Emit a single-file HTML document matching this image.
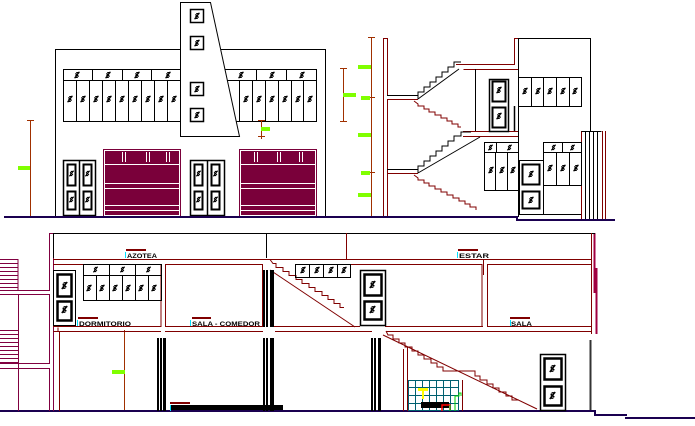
<!DOCTYPE html>
<html><head><meta charset="utf-8"><style>
html,body{margin:0;padding:0;background:#fff;width:695px;height:426px;overflow:hidden}
svg{display:block}
text{font-family:"Liberation Sans",sans-serif;font-weight:bold;font-size:6px;fill:#000}
</style></head><body>
<svg width="695" height="426" viewBox="0 0 695 426" xmlns="http://www.w3.org/2000/svg">
<defs>
<symbol id="f" viewBox="0 0 10 10"><path d="M2 9 L8 1 M3 3 L7 7 M4 2 h4 M2 8 h4 M5 5 l-2 1" stroke="#000" stroke-width="1.6" fill="none"/></symbol>
</defs>
<g fill="none" stroke="#000" stroke-width="1">
<!-- FRONT ELEVATION -->
<rect x="55.5" y="49.5" width="270" height="167"/>
<rect x="63.5" y="69.5" width="253" height="52" fill="#fff"/>
<line x1="63" y1="80.5" x2="316" y2="80.5"/>
<path d="M92.5 69v11 M122.5 69v11 M151.5 69v11 M256.5 69v11 M286.5 69v11"/>
<path d="M76.5 80v41 M89.5 80v41 M102.5 80v41 M115.5 80v41 M128.5 80v41 M141.5 80v41 M154.5 80v41 M167.5 80v41 M239.5 80v41 M252.5 80v41 M265.5 80v41 M278.5 80v41 M291.5 80v41 M303.5 80v41"/>
<polygon points="180.5,2.5 210.5,2.5 239.5,136.5 180.5,136.5" fill="#fff"/>
<rect x="190.5" y="9.5" width="13" height="13" stroke-width="1.5"/>
<rect x="190.5" y="36.5" width="13" height="13" stroke-width="1.5"/>
<rect x="190.5" y="82.5" width="13" height="13" stroke-width="1.5"/>
<rect x="190.5" y="108.5" width="13" height="13" stroke-width="1.5"/>
<!-- doors front -->
<rect x="63.5" y="160.5" width="32" height="55" stroke-width="1.5"/>
<line x1="79.5" y1="160" x2="79.5" y2="215" stroke-width="1.5"/>
<rect x="67.5" y="164.5" width="8" height="21" stroke-width="2"/><rect x="83.5" y="164.5" width="8" height="21" stroke-width="2"/>
<rect x="67.5" y="191.5" width="8" height="18" stroke-width="2"/><rect x="83.5" y="191.5" width="8" height="18" stroke-width="2"/>
<rect x="190.5" y="160.5" width="34" height="55" stroke-width="1.5"/>
<line x1="207.5" y1="160" x2="207.5" y2="215" stroke-width="1.5"/>
<rect x="194.5" y="164.5" width="8" height="21" stroke-width="2"/><rect x="211.5" y="164.5" width="8" height="21" stroke-width="2"/>
<rect x="194.5" y="191.5" width="8" height="18" stroke-width="2"/><rect x="211.5" y="191.5" width="8" height="18" stroke-width="2"/>
</g>
<g>
<use href="#f" x="73" y="71" width="8" height="8"/><use href="#f" x="104" y="71" width="8" height="8"/><use href="#f" x="133" y="71" width="8" height="8"/><use href="#f" x="164" y="71" width="8" height="8"/>
<use href="#f" x="237" y="71" width="8" height="8"/><use href="#f" x="268" y="71" width="8" height="8"/><use href="#f" x="298" y="71" width="8" height="8"/>
<use href="#f" x="66" y="95" width="8" height="8"/><use href="#f" x="79" y="95" width="8" height="8"/><use href="#f" x="92" y="95" width="8" height="8"/><use href="#f" x="105" y="95" width="8" height="8"/><use href="#f" x="118" y="95" width="8" height="8"/><use href="#f" x="131" y="95" width="8" height="8"/><use href="#f" x="144" y="95" width="8" height="8"/><use href="#f" x="157" y="95" width="8" height="8"/><use href="#f" x="170" y="95" width="8" height="8"/>
<use href="#f" x="242" y="95" width="8" height="8"/><use href="#f" x="255" y="95" width="8" height="8"/><use href="#f" x="268" y="95" width="8" height="8"/><use href="#f" x="281" y="95" width="8" height="8"/><use href="#f" x="294" y="95" width="8" height="8"/><use href="#f" x="306" y="95" width="8" height="8"/>
<use href="#f" x="193" y="12" width="8" height="8"/><use href="#f" x="193" y="39" width="8" height="8"/><use href="#f" x="193" y="85" width="8" height="8"/><use href="#f" x="193" y="111" width="8" height="8"/>
<use href="#f" x="68" y="170" width="7" height="7"/><use href="#f" x="84" y="170" width="7" height="7"/><use href="#f" x="68" y="196" width="7" height="7"/><use href="#f" x="84" y="196" width="7" height="7"/>
<use href="#f" x="195" y="170" width="7" height="7"/><use href="#f" x="212" y="170" width="7" height="7"/><use href="#f" x="195" y="196" width="7" height="7"/><use href="#f" x="212" y="196" width="7" height="7"/>
</g>
<!-- garages -->
<g>
<rect x="103" y="149" width="78" height="68" fill="#7a003a"/>
<rect x="239" y="149" width="78" height="68" fill="#7a003a"/>
<g stroke="#fff" stroke-width="1">
<rect x="104.5" y="150.5" width="75" height="65" fill="none"/>
<path d="M105 164.5h74 M105 183.5h74 M105 188.5h74 M105 205.5h74 M105 210.5h74 M122.5 152v10 M125.5 152v10 M146.5 152v10 M149.5 152v10 M166.5 152v10 M169.5 152v10"/>
<rect x="240.5" y="150.5" width="75" height="65" fill="none"/>
<path d="M241 164.5h74 M241 183.5h74 M241 188.5h74 M241 205.5h74 M241 210.5h74 M254.5 152v10 M257.5 152v10 M277.5 152v10 M280.5 152v10 M299.5 152v10 M302.5 152v10"/>
</g>
</g>
<!-- dims front -->
<g stroke="#a03000" stroke-width="1" fill="none">
<path d="M30.5 120v97 M27 120.5h7 M27 216.5h7"/>
<path d="M343.5 68v54 M340 68.5h7 M340 121.5h7"/>
<path d="M261.5 120v19 M258 120.5h7 M258 136.5h7"/>
<path d="M371.5 37v180 M368 37.5h7 M368 97.5h7 M368 172.5h7 M368 216.5h7"/>
<path d="M124.5 330v81"/>
</g>
<g fill="#80ff00">
<rect x="18" y="166" width="12" height="4"/><rect x="261" y="127" width="9" height="4"/><rect x="344" y="93" width="7" height="4"/>
<rect x="358" y="65" width="13" height="4"/><rect x="361" y="96" width="9" height="4"/><rect x="358" y="133" width="13" height="4"/><rect x="361" y="171" width="9" height="4"/><rect x="358" y="193" width="13" height="4"/>
<rect x="343" y="93" width="13" height="4"/>
<rect x="112" y="370" width="13" height="4"/>
</g>
<!-- SIDE SECTION -->
<g fill="none" stroke="#800000" stroke-width="1">
<path d="M383.5 217V38.5h4V95.5 M387.5 99.5V217"/>
<path d="M387 99.5h31l-4 0 M387 173.5h31"/>
<path d="M456 64.5h58.5V38.5h4v31h-55"/>
<path d="M463 131.5h55 M463 136.5h55"/>
<path d="M414 101 l4 3h0 v2h6v3h5v3h6v3h6v3h6v3h5v3h6v3h3"/>
<path d="M414 175 l4 3v2h6v3h5v3h6v3h6v3h6v3h6v3h6v3h6v3h5v3h6v3"/>
<path d="M581.5 131v89 M585.5 131v89 M602.5 131v89 M605.5 131v89"/>
</g>
<g fill="none" stroke="#000" stroke-width="1">
<path d="M387 95.5h31 M387 169.5h31"/>
<path d="M418 99v-7h6v-5h6v-5h6v-5h6v-5h6v-5h6v-5h7"/>
<path d="M418 99 L459 69"/>
<path d="M418 173v-7h6v-5h6v-5h6v-5h6v-5h6v-5h6v-5h7v-4h10"/>
<path d="M418 173 L480 137"/>
<path d="M518.5 217V38.5h72V131"/>
<path d="M475.5 69v62"/>
<rect x="518.5" y="77.5" width="63" height="29"/>
<path d="M531.5 78v28 M543.5 78v28 M556.5 78v28 M569.5 78v28"/>
<rect x="489.5" y="79.5" width="19" height="52" stroke-width="1.5"/>
<rect x="492.5" y="81.5" width="13" height="20" stroke-width="2"/><rect x="492.5" y="107.5" width="13" height="20" stroke-width="2"/>
<path d="M514.5 106v25" stroke-width="1.5"/>
<rect x="484.5" y="142.5" width="34" height="48"/><path d="M484 152.5h34 M496.5 142v10 M495.5 152v38 M507.5 152v38"/>
<rect x="543.5" y="142.5" width="38" height="43"/><path d="M543 152.5h38 M562.5 142v10 M556.5 152v33 M569.5 152v33"/>
<rect x="519.5" y="160.5" width="24" height="54"/>
<rect x="522.5" y="164.5" width="17" height="20" stroke-width="2"/><rect x="522.5" y="191.5" width="17" height="17" stroke-width="2"/>
<path d="M519 214.5h62"/>
<path d="M581.5 131.5h20 M585.5 131v89 M589.5 131v89 M593.5 131v89 M597.5 131v89"/>
</g>
<g>
<use href="#f" x="495" y="86" width="8" height="8"/><use href="#f" x="495" y="112" width="8" height="8"/>
<use href="#f" x="521" y="87" width="8" height="8"/><use href="#f" x="534" y="87" width="8" height="8"/><use href="#f" x="546" y="87" width="8" height="8"/><use href="#f" x="559" y="87" width="8" height="8"/><use href="#f" x="571" y="87" width="8" height="8"/>
<use href="#f" x="487" y="144" width="7" height="7"/><use href="#f" x="506" y="144" width="7" height="7"/><use href="#f" x="487" y="166" width="8" height="8"/><use href="#f" x="498" y="166" width="8" height="8"/><use href="#f" x="509" y="166" width="8" height="8"/>
<use href="#f" x="550" y="144" width="7" height="7"/><use href="#f" x="569" y="144" width="7" height="7"/><use href="#f" x="546" y="164" width="8" height="8"/><use href="#f" x="559" y="164" width="8" height="8"/><use href="#f" x="572" y="164" width="8" height="8"/>
<use href="#f" x="527" y="170" width="8" height="8"/><use href="#f" x="527" y="196" width="8" height="8"/>
</g>
<!-- ground lines -->
<g fill="#1a0050">
<rect x="4" y="216" width="346" height="2"/>
<rect x="340" y="216" width="178" height="2"/>
<rect x="516" y="219" width="99" height="2"/><rect x="516" y="216" width="2" height="5"/>
<rect x="0" y="410" width="596" height="2"/>
<rect x="594" y="414" width="33" height="2"/><rect x="625" y="417" width="70" height="2"/><rect x="594" y="410" width="2" height="6"/>
</g>
<!-- BOTTOM SECTION -->
<g fill="none" stroke="#800040" stroke-width="1">
<path d="M0 259.5h18V290 M0 263.5h18 M0 267.5h18 M0 271.5h18 M0 275.5h18 M0 279.5h18 M0 283.5h18 M0 287.5h18"/>
<path d="M0 330.5h18 M0 334.5h18 M0 338.5h18 M0 342.5h18 M0 346.5h18 M0 350.5h18 M0 354.5h18 M0 358.5h18 M0 362.5h18"/>
<path d="M0 290.5h49.5V233.5h4 M0 294.5h49.5v69h-49.5 M0 368.5h49.5V411 M18.5 294v117 M53.5 233v178"/>
<path d="M594.5 233v60 M596.5 268v66" stroke="#a00040" stroke-width="2"/>
</g>
<g fill="none" stroke="#000" stroke-width="1">
<path d="M53 233.5h542 M266.5 233v25 M53.5 233v25 M591.5 233v25"/>
</g>
<g fill="none" stroke="#800000" stroke-width="1">
<path d="M53 259.5h538 M591.5 233V334"/>
<path d="M53 264.5h108V327 M53 326.5h108"/>
<path d="M165.5 327V264.5h97v62h-97"/>
<path d="M53 331.5h5v-4 M53 331.5h108 M165 331.5h98 M275 331.5h97 M386 331.5h205"/>
<path d="M59.5 331v80"/>
<path d="M270 259.5l3 4h3v4h7v4h6v4h7v4h6v4h7v4h6v4h7v4h6v4h6v4h6v4h4"/>
<path d="M270 270 L355 327"/>
<path d="M270 326.5h90 M385 326.5h98"/>
<path d="M350 264.5h132v62"/>
<path d="M487.5 264v62 M487 264.5h104 M487 326.5h104"/>
<path d="M386 331l2 4h5v4h6v4h6v4h7v4h6v4h6v4h7v4h6v4h6v4h32v5h5v4h7v4h6v4h6v4h7v4h6v4h7"/>
<path d="M383 335 L537 409"/>
<path d="M403.5 349v62 M407.5 347v64 M458.5 380v31 M462.5 380v31"/>
<path d="M346.5 233v26 M483.5 259v16"/>
</g>
<g fill="#000">
<rect x="157" y="338" width="2" height="73"/><rect x="160" y="338" width="2" height="73"/><rect x="163" y="338" width="3" height="73"/>
<rect x="263" y="270" width="2" height="57"/><rect x="266" y="270" width="2" height="57"/><rect x="270" y="270" width="4" height="57"/>
<rect x="263" y="338" width="2" height="73"/><rect x="266" y="338" width="2" height="73"/><rect x="270" y="338" width="4" height="73"/>
<rect x="371" y="338" width="2" height="73"/><rect x="374" y="338" width="2" height="73"/><rect x="378" y="338" width="3" height="73"/>
<rect x="171" y="405" width="112" height="5"/>
</g>
<g fill="none" stroke="#000" stroke-width="1">
<rect x="53.5" y="270.5" width="22" height="55"/>
<rect x="57.5" y="274.5" width="14" height="22" stroke-width="2.5"/><rect x="57.5" y="301.5" width="14" height="19" stroke-width="2.5"/>
<rect x="83.5" y="264.5" width="78" height="11"/><rect x="83.5" y="275.5" width="78" height="25"/>
<path d="M109.5 264v11 M135.5 264v11 M96.5 275v25 M109.5 275v25 M122.5 275v25 M135.5 275v25 M148.5 275v25"/>
<rect x="295.5" y="264.5" width="55" height="13"/><path d="M309.5 264v13 M323.5 264v13 M337.5 264v13"/>
<rect x="360.5" y="270.5" width="25" height="55" stroke-width="1.5"/>
<rect x="364.5" y="274.5" width="17" height="21" stroke-width="2.5"/><rect x="364.5" y="301.5" width="17" height="18" stroke-width="2.5"/>
<rect x="540.5" y="354.5" width="25" height="56" stroke-width="1.5"/>
<rect x="544.5" y="358.5" width="17" height="21" stroke-width="2.5"/><rect x="544.5" y="386.5" width="17" height="19" stroke-width="2.5"/>
<path d="M590.5 340v70" stroke="#333" stroke-width="2"/>
</g>
<g>
<use href="#f" x="60" y="281" width="9" height="9"/><use href="#f" x="60" y="305" width="9" height="9"/>
<use href="#f" x="92" y="266" width="7" height="7"/><use href="#f" x="119" y="266" width="7" height="7"/><use href="#f" x="145" y="266" width="7" height="7"/>
<use href="#f" x="85" y="284" width="8" height="8"/><use href="#f" x="98" y="284" width="8" height="8"/><use href="#f" x="111" y="284" width="8" height="8"/><use href="#f" x="124" y="284" width="8" height="8"/><use href="#f" x="137" y="284" width="8" height="8"/><use href="#f" x="150" y="284" width="8" height="8"/>
<use href="#f" x="299" y="266" width="8" height="8"/><use href="#f" x="313" y="266" width="8" height="8"/><use href="#f" x="327" y="266" width="8" height="8"/><use href="#f" x="340" y="266" width="8" height="8"/>
<use href="#f" x="368" y="280" width="9" height="9"/><use href="#f" x="368" y="305" width="9" height="9"/>
<use href="#f" x="548" y="364" width="9" height="9"/><use href="#f" x="548" y="391" width="9" height="9"/>
</g>
<!-- bathroom -->
<g fill="none" stroke="#006070" stroke-width="1">
<rect x="408.5" y="380.5" width="50" height="30"/>
<path d="M408 387.5h50 M408 395.5h50 M408 403.5h50 M415.5 380v31 M422.5 380v31 M429.5 380v31 M436.5 380v31 M443.5 380v31 M450.5 380v31"/>
</g>
<path d="M418 388h10v3h-4v8h-2v-8h-4z" fill="#ffff00"/>
<rect x="421" y="402" width="28" height="6" fill="#000"/>
<path d="M442 411v-6h8v5" stroke="#ff0000" fill="none" stroke-width="1.5"/>
<path d="M455 411v-15h4v-3h2v3M450 411v-6" stroke="#00d000" fill="none" stroke-width="1"/>
<!-- labels -->
<g fill="#800000"><rect x="126" y="249" width="20" height="2"/><rect x="78" y="317" width="20" height="2"/><rect x="192" y="317" width="19" height="2"/><rect x="458" y="249" width="20" height="2"/><rect x="510" y="317" width="20" height="2"/><rect x="170" y="402" width="20" height="2"/></g>
<g fill="#00e0ff"><rect x="125" y="252" width="1" height="6"/><rect x="77" y="320" width="1" height="6"/><rect x="190" y="320" width="1" height="6"/><rect x="457" y="252" width="1" height="6"/><rect x="510" y="320" width="1" height="6"/><rect x="170" y="405" width="1" height="6"/></g>
<text x="127" y="258" textLength="30" lengthAdjust="spacingAndGlyphs">AZOTEA</text>
<text x="79" y="326" textLength="52" lengthAdjust="spacingAndGlyphs">DORMITORIO</text>
<text x="192" y="326" textLength="68" lengthAdjust="spacingAndGlyphs">SALA - COMEDOR</text>
<text x="459" y="258" textLength="30" lengthAdjust="spacingAndGlyphs">ESTAR</text>
<text x="511" y="326" textLength="21" lengthAdjust="spacingAndGlyphs">SALA</text>
</svg>
</body></html>
